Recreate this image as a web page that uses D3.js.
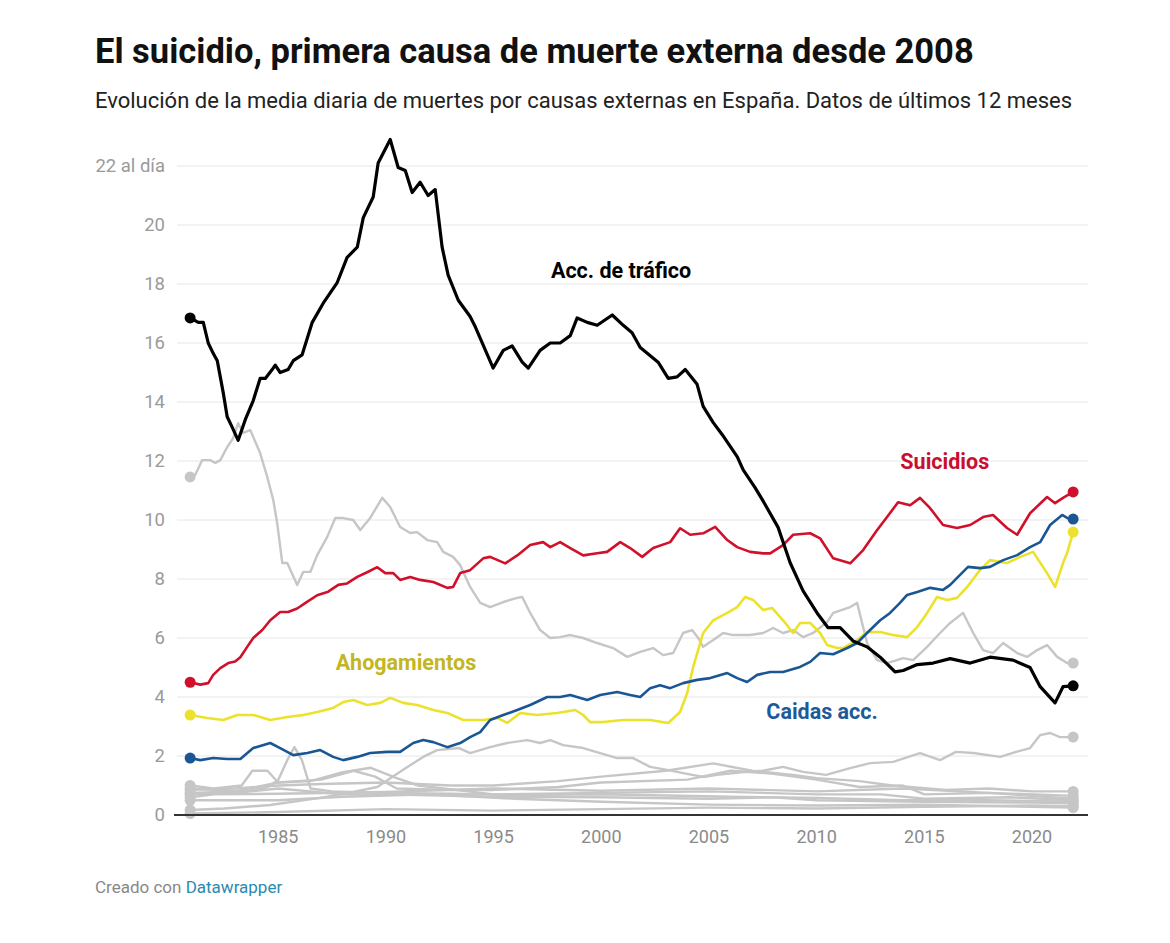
<!DOCTYPE html>
<html>
<head>
<meta charset="utf-8">
<script src="https://cdn.jsdelivr.net/npm/d3@7"></script>
<style>
  body { margin: 0; background: #fff; }
  svg { font-family: Roboto, "Noto Sans", sans-serif; }
</style>
</head>
<body>
<svg id="chart" width="1170" height="943"></svg>
<script>
// Media diaria de muertes (12 meses móviles): [año, valor]
const trafico = [[1980.91,16.85],[1981.29,16.7],[1981.52,16.7],[1981.75,16.0],[1981.98,15.65],[1982.17,15.4],[1982.45,14.3],[1982.63,13.5],[1982.86,13.15],[1983.14,12.7],[1983.47,13.4],[1983.84,14.05],[1984.16,14.8],[1984.4,14.8],[1984.72,15.1],[1984.86,15.25],[1985.09,15.0],[1985.46,15.1],[1985.7,15.4],[1986.11,15.6],[1986.58,16.7],[1987.09,17.35],[1987.74,18.05],[1988.2,18.9],[1988.67,19.25],[1988.95,20.25],[1989.41,20.95],[1989.64,22.1],[1990.2,22.9],[1990.57,21.95],[1990.9,21.85],[1991.22,21.1],[1991.59,21.45],[1991.96,21.0],[1992.29,21.2],[1992.61,19.25],[1992.89,18.3],[1993.36,17.45],[1993.91,16.9],[1994.15,16.55],[1994.98,15.15],[1995.45,15.75],[1995.86,15.9],[1996.33,15.35],[1996.61,15.15],[1997.16,15.75],[1997.63,16.0],[1998.09,16.0],[1998.56,16.25],[1998.88,16.85],[1999.35,16.7],[1999.81,16.6],[2000.51,16.95],[2001.02,16.6],[2001.43,16.35],[2001.81,15.85],[2002.64,15.35],[2003.11,14.8],[2003.52,14.85],[2003.9,15.1],[2004.45,14.6],[2004.73,13.85],[2005.2,13.3],[2005.61,12.9],[2006.31,12.15],[2006.59,11.7],[2007.14,11.1],[2007.47,10.7],[2008.21,9.75],[2008.77,8.55],[2009.37,7.6],[2010.02,6.85],[2010.53,6.35],[2011.09,6.35],[2011.69,5.9],[2012.34,5.7],[2012.95,5.35],[2013.64,4.85],[2014.02,4.9],[2014.67,5.1],[2015.41,5.15],[2016.2,5.3],[2017.13,5.15],[2018.05,5.35],[2019.12,5.25],[2019.91,5.0],[2020.38,4.35],[2021.07,3.8],[2021.44,4.35],[2021.91,4.38]];

const suicidios = [[1980.91,4.5],[1981.38,4.42],[1981.75,4.47],[1981.98,4.75],[1982.31,4.98],[1982.68,5.15],[1983.0,5.2],[1983.24,5.35],[1983.56,5.7],[1983.84,6.0],[1984.26,6.27],[1984.63,6.6],[1985.09,6.88],[1985.46,6.88],[1985.88,7.0],[1986.25,7.18],[1986.81,7.45],[1987.32,7.57],[1987.79,7.8],[1988.2,7.85],[1988.67,8.07],[1989.13,8.23],[1989.6,8.4],[1989.97,8.2],[1990.34,8.2],[1990.66,7.97],[1991.13,8.07],[1991.59,7.97],[1992.2,7.9],[1992.85,7.7],[1993.12,7.73],[1993.45,8.2],[1993.91,8.3],[1994.52,8.7],[1994.84,8.75],[1995.54,8.53],[1996.1,8.8],[1996.7,9.15],[1997.3,9.25],[1997.63,9.08],[1998.09,9.25],[1998.56,9.05],[1999.16,8.8],[1999.81,8.87],[2000.27,8.92],[2000.88,9.25],[2001.34,9.05],[2001.9,8.75],[2002.41,9.05],[2003.2,9.25],[2003.66,9.72],[2004.13,9.5],[2004.73,9.55],[2005.29,9.77],[2005.85,9.32],[2006.31,9.08],[2006.91,8.92],[2007.52,8.87],[2007.84,8.87],[2008.44,9.15],[2008.91,9.5],[2009.7,9.55],[2010.16,9.38],[2010.77,8.7],[2011.56,8.53],[2012.16,8.98],[2012.81,9.66],[2013.27,10.1],[2013.78,10.6],[2014.34,10.5],[2014.8,10.75],[2015.27,10.4],[2015.87,9.83],[2016.52,9.73],[2017.13,9.83],[2017.73,10.1],[2018.19,10.17],[2018.84,9.73],[2019.31,9.5],[2019.91,10.23],[2020.7,10.78],[2021.07,10.57],[2021.44,10.75],[2021.91,10.95]];

const caidas = [[1980.91,1.93],[1981.38,1.86],[1981.98,1.93],[1982.63,1.9],[1983.24,1.9],[1983.84,2.27],[1984.63,2.44],[1985.09,2.27],[1985.7,2.03],[1986.35,2.1],[1986.95,2.2],[1987.55,1.97],[1988.02,1.86],[1988.67,1.97],[1989.27,2.1],[1990.06,2.14],[1990.66,2.14],[1991.27,2.44],[1991.73,2.54],[1992.2,2.47],[1992.85,2.3],[1993.45,2.44],[1993.91,2.64],[1994.38,2.81],[1994.84,3.22],[1995.45,3.39],[1996.1,3.56],[1996.7,3.73],[1997.49,4.0],[1998.09,4.0],[1998.56,4.07],[1999.35,3.9],[1999.95,4.07],[2000.74,4.17],[2001.34,4.07],[2001.81,4.0],[2002.27,4.3],[2002.73,4.4],[2003.2,4.3],[2003.8,4.47],[2004.45,4.58],[2005.06,4.64],[2005.85,4.81],[2006.31,4.64],[2006.77,4.51],[2007.24,4.75],[2007.84,4.85],[2008.44,4.85],[2009.23,5.02],[2009.7,5.19],[2010.16,5.49],[2010.77,5.45],[2011.42,5.66],[2011.88,5.83],[2012.34,6.17],[2012.95,6.6],[2013.41,6.85],[2013.87,7.19],[2014.2,7.46],[2014.67,7.56],[2015.27,7.7],[2015.87,7.63],[2016.2,7.8],[2016.66,8.14],[2017.03,8.41],[2017.59,8.37],[2018.05,8.41],[2018.66,8.64],[2019.31,8.81],[2019.91,9.08],[2020.38,9.25],[2020.84,9.83],[2021.4,10.17],[2021.63,10.07],[2021.91,10.03]];

const ahogamientos = [[1980.91,3.39],[1981.7,3.29],[1982.45,3.22],[1983.1,3.39],[1983.84,3.39],[1984.63,3.22],[1985.42,3.32],[1986.16,3.39],[1986.81,3.49],[1987.55,3.63],[1988.02,3.83],[1988.48,3.9],[1989.13,3.73],[1989.74,3.8],[1990.2,3.97],[1990.8,3.8],[1991.45,3.73],[1992.2,3.56],[1992.85,3.46],[1993.59,3.22],[1994.52,3.22],[1995.17,3.29],[1995.63,3.12],[1996.24,3.46],[1997.02,3.39],[1997.95,3.46],[1998.79,3.56],[1999.16,3.39],[1999.48,3.15],[2000.09,3.15],[2001.02,3.22],[2002.27,3.22],[2003.11,3.12],[2003.66,3.49],[2003.99,4.14],[2004.27,5.02],[2004.73,6.17],[2005.2,6.6],[2005.85,6.85],[2006.31,7.05],[2006.68,7.39],[2007.05,7.29],[2007.52,6.95],[2007.93,7.02],[2008.44,6.6],[2008.91,6.17],[2009.23,6.51],[2009.7,6.51],[2010.16,6.17],[2010.49,5.76],[2010.95,5.66],[2011.23,5.66],[2011.88,5.93],[2012.34,6.2],[2012.95,6.2],[2013.55,6.1],[2014.2,6.03],[2014.67,6.37],[2015.13,6.85],[2015.59,7.39],[2016.06,7.29],[2016.52,7.36],[2016.99,7.73],[2017.59,8.31],[2018.05,8.64],[2018.84,8.54],[2019.45,8.75],[2020.05,8.92],[2020.7,8.2],[2021.07,7.73],[2021.44,8.54],[2021.63,8.88],[2021.91,9.59]];

// Resto de causas externas (en gris)
const otrasA = [[1980.91,11.46],[1981.15,11.53],[1981.47,12.03],[1981.84,12.03],[1982.08,11.93],[1982.31,12.03],[1982.63,12.47],[1982.91,12.78],[1983.14,13.28],[1983.38,12.95],[1983.7,13.05],[1984.16,12.27],[1984.49,11.46],[1984.77,10.68],[1984.95,9.9],[1985.19,8.54],[1985.42,8.54],[1985.88,7.8],[1986.16,8.24],[1986.49,8.24],[1986.81,8.81],[1987.27,9.42],[1987.65,10.07],[1987.97,10.07],[1988.48,10.0],[1988.81,9.66],[1989.27,10.07],[1989.83,10.75],[1990.2,10.44],[1990.66,9.76],[1991.13,9.56],[1991.45,9.59],[1991.92,9.32],[1992.38,9.25],[1992.66,8.92],[1993.12,8.75],[1993.45,8.47],[1993.91,7.73],[1994.38,7.19],[1994.84,7.05],[1995.45,7.22],[1996.1,7.36],[1996.33,7.39],[1996.7,6.85],[1997.16,6.27],[1997.63,6.0],[1998.09,6.03],[1998.56,6.1],[1999.16,6.0],[1999.81,5.83],[2000.55,5.66],[2001.2,5.36],[2001.81,5.53],[2002.41,5.66],[2002.87,5.42],[2003.34,5.49],[2003.8,6.17],[2004.22,6.27],[2004.5,6.0],[2004.73,5.7],[2005.2,5.93],[2005.66,6.17],[2006.12,6.1],[2006.91,6.1],[2007.52,6.17],[2007.98,6.34],[2008.44,6.17],[2008.91,6.27],[2009.37,6.03],[2009.84,6.17],[2010.49,6.54],[2010.77,6.85],[2011.56,7.05],[2011.88,7.19],[2012.34,5.83],[2012.81,5.25],[2013.27,5.15],[2014.02,5.32],[2014.48,5.25],[2015.13,5.7],[2015.73,6.17],[2016.2,6.51],[2016.8,6.85],[2017.27,6.17],[2017.73,5.59],[2018.19,5.49],[2018.66,5.83],[2019.31,5.49],[2019.77,5.36],[2020.24,5.59],[2020.7,5.76],[2021.17,5.36],[2021.63,5.15],[2021.91,5.15]];
const otrasB = [[1980.91,0.17],[1982.5,0.22],[1984.63,0.34],[1986.95,0.58],[1988.48,0.78],[1989.6,0.95],[1990.8,1.53],[1991.73,1.97],[1992.38,2.2],[1993.4,2.27],[1993.91,2.1],[1994.84,2.3],[1995.63,2.44],[1996.56,2.54],[1997.16,2.44],[1997.63,2.54],[1998.23,2.37],[1999.16,2.27],[1999.95,2.1],[2000.74,1.93],[2001.48,1.93],[2002.27,1.63],[2003.06,1.53],[2003.8,1.42],[2004.73,1.29],[2005.38,1.36],[2006.5,1.45],[2007.5,1.5],[2008.44,1.63],[2009.37,1.46],[2010.44,1.36],[2011.56,1.59],[2012.49,1.76],[2013.55,1.8],[2014.8,2.1],[2015.73,1.86],[2016.47,2.14],[2017.27,2.1],[2018.52,1.97],[2019.26,2.14],[2019.91,2.27],[2020.38,2.71],[2020.84,2.78],[2021.3,2.64],[2021.91,2.64]];
const otrasC = [[1980.91,0.9],[1982,0.85],[1983.5,0.8],[1984.5,0.95],[1985,1.19],[1985.42,1.86],[1985.75,2.3],[1986.1,1.86],[1986.5,0.9],[1987.5,0.8],[1990,0.75],[1993,0.72],[1996,0.68],[2000,0.7],[2003,0.66],[2006,0.62],[2010,0.58],[2014,0.5],[2018,0.5],[2021.91,0.45]];
const otrasD = [[1980.91,0.85],[1983,0.9],[1985,1.0],[1987,1.05],[1990,1.1],[1993,1.0],[1995,1.0],[1998,1.15],[2000,1.3],[2003,1.5],[2005.2,1.75],[2007,1.5],[2009,1.35],[2010,1.25],[2012,1.15],[2013.5,1.0],[2016,0.85],[2018,0.9],[2020,0.8],[2021.91,0.8]];
const otrasE = [[1980.91,0.75],[1983,0.8],[1985,1.1],[1987,1.2],[1988.5,1.5],[1989.5,1.3],[1990.5,0.9],[1993,0.85],[1995,0.85],[1998,0.95],[2000,1.1],[2004,1.2],[2006,1.5],[2008,1.4],[2010,1.2],[2012,0.95],[2014,1.0],[2015,0.7],[2018,0.75],[2021.91,0.65]];
const otrasF = [[1980.91,1.0],[1982,0.9],[1983.3,1.0],[1983.8,1.5],[1984.5,1.5],[1985,1.1],[1986.5,1.15],[1988,1.45],[1989.3,1.6],[1990.5,1.25],[1991.5,1.0],[1995,0.7],[2000,0.75],[2005,0.8],[2010,0.7],[2013,0.7],[2015,0.55],[2019,0.6],[2021.91,0.5]];
const otrasG = [[1980.91,0.7],[1983,0.75],[1985,0.9],[1988,0.7],[1990,0.7],[1995,0.62],[2000,0.6],[2005,0.55],[2008,0.6],[2010,0.5],[2015,0.45],[2020,0.42],[2021.91,0.4]];
const otrasH = [[1980.91,0.6],[1982,0.7],[1985,0.72],[1990,0.78],[1995,0.9],[2000,0.82],[2005,0.9],[2010,0.8],[2014,0.9],[2018,0.75],[2021.91,0.55]];
const otrasI = [[1980.91,0.5],[1985,0.5],[1988,0.62],[1992,0.7],[1996,0.55],[2000,0.45],[2005,0.35],[2010,0.32],[2015,0.35],[2021.91,0.25]];
const otrasJ = [[1980.91,0.05],[1985,0.1],[1990,0.2],[1995,0.15],[2000,0.2],[2005,0.25],[2010,0.22],[2015,0.28],[2020,0.32],[2021.91,0.3]];

const grises = [otrasA, otrasB, otrasC, otrasD, otrasE, otrasF, otrasG, otrasH, otrasI, otrasJ];

const yTicks = [0, 2, 4, 6, 8, 10, 12, 14, 16, 18, 20, 22];
const xTicks = [1985, 1990, 1995, 2000, 2005, 2010, 2015, 2020];

const series = [
  { name: "Ahogamientos", data: ahogamientos, color: "#ece22c", labelColor: "#c3b622", label: [1990.93, 4.92] },
  { name: "Caidas acc.", data: caidas, color: "#1a5694", labelColor: "#1d5a98", label: [2010.25, 3.25] },
  { name: "Suicidios", data: suicidios, color: "#d1102b", labelColor: "#c8102e", label: [2015.95, 11.73] },
  { name: "Acc. de tráfico", data: trafico, color: "#000000", labelColor: "#000000", label: [2000.92, 18.2] }
];

const svg = d3.select("#chart");

const x = d3.scaleLinear().domain([1980.3, 2022.6]).range([177, 1088]);
const y = d3.scaleLinear().domain([0, 22]).range([815, 166]);

// title
svg.append("text")
  .attr("x", 95).attr("y", 63)
  .style("font-size", "34.5px").style("font-weight", 700).attr("fill", "#111")
  .text("El suicidio, primera causa de muerte externa desde 2008");

svg.append("text")
  .attr("x", 95).attr("y", 108)
  .style("font-size", "22px").attr("fill", "#222")
  .text("Evolución de la media diaria de muertes por causas externas en España. Datos de últimos 12 meses");

// grid
svg.append("g").selectAll("line")
  .data(yTicks.filter(d => d > 0))
  .enter().append("line")
  .attr("x1", 177).attr("x2", 1088)
  .attr("y1", d => y(d)).attr("y2", d => y(d))
  .attr("stroke", "#e6e6e6").attr("stroke-width", 1);

svg.append("g").selectAll("text")
  .data(yTicks)
  .enter().append("text")
  .attr("x", 165).attr("y", d => y(d))
  .attr("dy", "0.35em")
  .attr("text-anchor", "end")
  .style("font-size", "18.5px").attr("fill", "#9a9a9a")
  .text(d => d === 22 ? "22 al día" : d);

svg.append("g").selectAll("text")
  .data(xTicks)
  .enter().append("text")
  .attr("x", d => x(d)).attr("y", 843)
  .attr("text-anchor", "middle")
  .style("font-size", "18px").attr("fill", "#8a8a8a")
  .text(d => d);

const line = d3.line()
  .x(d => x(d[0]))
  .y(d => y(d[1]));

// gray lines
const gray = svg.append("g");
grises.forEach(function (s) {
  gray.append("path")
    .datum(s)
    .attr("d", line)
    .attr("fill", "none")
    .attr("stroke", "#c6c6c6")
    .attr("stroke-width", 2.4)
    .attr("stroke-linejoin", "round");
  gray.selectAll(null)
    .data([s[0], s[s.length - 1]])
    .enter().append("circle")
    .attr("cx", d => x(d[0])).attr("cy", d => y(d[1]))
    .attr("r", 5.5).attr("fill", "#c6c6c6");
});

// baseline
svg.append("line")
  .attr("x1", 174).attr("x2", 1088)
  .attr("y1", y(0)).attr("y2", y(0))
  .attr("stroke", "#333").attr("stroke-width", 2);

// highlighted series
series.forEach(function (s) {
  svg.append("path")
    .datum(s.data)
    .attr("d", line)
    .attr("fill", "none")
    .attr("stroke", s.color)
    .attr("stroke-width", s.name === "Acc. de tráfico" ? 3.2 : 2.6)
    .attr("stroke-linejoin", "round");
  svg.selectAll(null)
    .data([s.data[0], s.data[s.data.length - 1]])
    .enter().append("circle")
    .attr("cx", d => x(d[0])).attr("cy", d => y(d[1]))
    .attr("r", 5.5).attr("fill", s.color);
});

// labels
svg.append("g").selectAll("text")
  .data(series)
  .enter().append("text")
  .attr("x", d => x(d.label[0])).attr("y", d => y(d.label[1]))
  .attr("text-anchor", "middle")
  .style("font-size", "21.5px").style("font-weight", 700)
  .attr("fill", d => d.labelColor)
  .text(d => d.name);

// footer
const foot = svg.append("text")
  .attr("x", 95).attr("y", 893)
  .style("font-size", "17px");
foot.append("tspan").attr("fill", "#888").text("Creado con ");
foot.append("tspan").attr("fill", "#2b8ab0").text("Datawrapper");
</script>
</body>
</html>
